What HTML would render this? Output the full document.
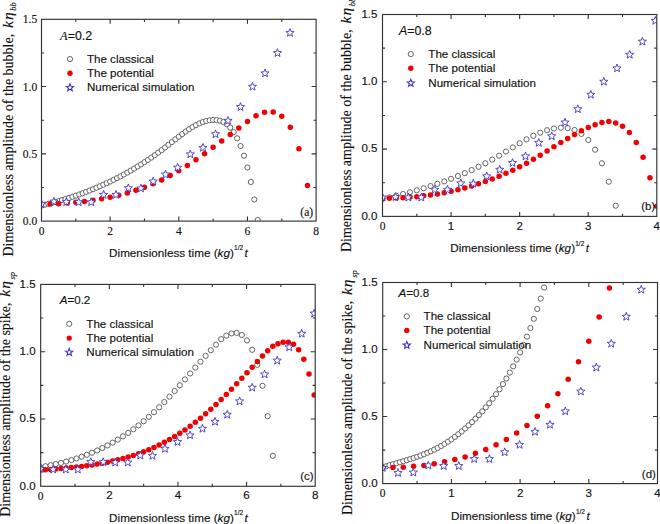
<!DOCTYPE html><html><head><meta charset="utf-8"><style>html,body{margin:0;padding:0;background:#fff;}svg{display:block;} text{stroke:#111;stroke-width:0.15px;}</style></head><body>
<svg width="660" height="524" viewBox="0 0 660 524">
<rect width="660" height="524" fill="#fff"/>
<defs><clipPath id="clipa"><rect x="41.50" y="19.30" width="274.60" height="201.80"/></clipPath><clipPath id="clipb"><rect x="382.50" y="14.50" width="274.30" height="201.90"/></clipPath><clipPath id="clipc"><rect x="40.70" y="284.40" width="274.50" height="201.90"/></clipPath><clipPath id="clipd"><rect x="382.70" y="282.50" width="274.80" height="201.10"/></clipPath></defs>
<g><g clip-path="url(#clipa)"><circle cx="41.50" cy="205.51" r="2.6" fill="#fff" stroke="#555" stroke-width="0.9"/><circle cx="44.93" cy="204.68" r="2.6" fill="#fff" stroke="#555" stroke-width="0.9"/><circle cx="48.36" cy="203.82" r="2.6" fill="#fff" stroke="#555" stroke-width="0.9"/><circle cx="51.80" cy="202.92" r="2.6" fill="#fff" stroke="#555" stroke-width="0.9"/><circle cx="55.23" cy="201.99" r="2.6" fill="#fff" stroke="#555" stroke-width="0.9"/><circle cx="58.66" cy="201.02" r="2.6" fill="#fff" stroke="#555" stroke-width="0.9"/><circle cx="62.09" cy="200.02" r="2.6" fill="#fff" stroke="#555" stroke-width="0.9"/><circle cx="65.52" cy="198.98" r="2.6" fill="#fff" stroke="#555" stroke-width="0.9"/><circle cx="68.96" cy="197.90" r="2.6" fill="#fff" stroke="#555" stroke-width="0.9"/><circle cx="72.39" cy="196.78" r="2.6" fill="#fff" stroke="#555" stroke-width="0.9"/><circle cx="75.82" cy="195.62" r="2.6" fill="#fff" stroke="#555" stroke-width="0.9"/><circle cx="79.25" cy="194.42" r="2.6" fill="#fff" stroke="#555" stroke-width="0.9"/><circle cx="82.68" cy="193.18" r="2.6" fill="#fff" stroke="#555" stroke-width="0.9"/><circle cx="86.12" cy="191.89" r="2.6" fill="#fff" stroke="#555" stroke-width="0.9"/><circle cx="89.55" cy="190.56" r="2.6" fill="#fff" stroke="#555" stroke-width="0.9"/><circle cx="92.98" cy="189.18" r="2.6" fill="#fff" stroke="#555" stroke-width="0.9"/><circle cx="96.41" cy="187.75" r="2.6" fill="#fff" stroke="#555" stroke-width="0.9"/><circle cx="99.84" cy="186.27" r="2.6" fill="#fff" stroke="#555" stroke-width="0.9"/><circle cx="103.28" cy="184.75" r="2.6" fill="#fff" stroke="#555" stroke-width="0.9"/><circle cx="106.71" cy="183.17" r="2.6" fill="#fff" stroke="#555" stroke-width="0.9"/><circle cx="110.14" cy="181.54" r="2.6" fill="#fff" stroke="#555" stroke-width="0.9"/><circle cx="113.57" cy="179.86" r="2.6" fill="#fff" stroke="#555" stroke-width="0.9"/><circle cx="117.00" cy="178.12" r="2.6" fill="#fff" stroke="#555" stroke-width="0.9"/><circle cx="120.44" cy="176.33" r="2.6" fill="#fff" stroke="#555" stroke-width="0.9"/><circle cx="123.87" cy="174.48" r="2.6" fill="#fff" stroke="#555" stroke-width="0.9"/><circle cx="127.30" cy="172.58" r="2.6" fill="#fff" stroke="#555" stroke-width="0.9"/><circle cx="130.73" cy="170.61" r="2.6" fill="#fff" stroke="#555" stroke-width="0.9"/><circle cx="134.16" cy="168.59" r="2.6" fill="#fff" stroke="#555" stroke-width="0.9"/><circle cx="137.60" cy="166.50" r="2.6" fill="#fff" stroke="#555" stroke-width="0.9"/><circle cx="141.03" cy="164.35" r="2.6" fill="#fff" stroke="#555" stroke-width="0.9"/><circle cx="144.46" cy="162.14" r="2.6" fill="#fff" stroke="#555" stroke-width="0.9"/><circle cx="147.89" cy="159.86" r="2.6" fill="#fff" stroke="#555" stroke-width="0.9"/><circle cx="151.32" cy="157.52" r="2.6" fill="#fff" stroke="#555" stroke-width="0.9"/><circle cx="154.76" cy="155.11" r="2.6" fill="#fff" stroke="#555" stroke-width="0.9"/><circle cx="158.19" cy="152.63" r="2.6" fill="#fff" stroke="#555" stroke-width="0.9"/><circle cx="161.62" cy="150.09" r="2.6" fill="#fff" stroke="#555" stroke-width="0.9"/><circle cx="165.05" cy="147.47" r="2.6" fill="#fff" stroke="#555" stroke-width="0.9"/><circle cx="168.48" cy="144.79" r="2.6" fill="#fff" stroke="#555" stroke-width="0.9"/><circle cx="171.92" cy="142.07" r="2.6" fill="#fff" stroke="#555" stroke-width="0.9"/><circle cx="175.35" cy="139.35" r="2.6" fill="#fff" stroke="#555" stroke-width="0.9"/><circle cx="178.78" cy="136.67" r="2.6" fill="#fff" stroke="#555" stroke-width="0.9"/><circle cx="182.21" cy="134.07" r="2.6" fill="#fff" stroke="#555" stroke-width="0.9"/><circle cx="185.64" cy="131.57" r="2.6" fill="#fff" stroke="#555" stroke-width="0.9"/><circle cx="189.08" cy="129.22" r="2.6" fill="#fff" stroke="#555" stroke-width="0.9"/><circle cx="192.51" cy="127.06" r="2.6" fill="#fff" stroke="#555" stroke-width="0.9"/><circle cx="195.94" cy="125.11" r="2.6" fill="#fff" stroke="#555" stroke-width="0.9"/><circle cx="199.37" cy="123.43" r="2.6" fill="#fff" stroke="#555" stroke-width="0.9"/><circle cx="202.80" cy="122.03" r="2.6" fill="#fff" stroke="#555" stroke-width="0.9"/><circle cx="206.24" cy="120.96" r="2.6" fill="#fff" stroke="#555" stroke-width="0.9"/><circle cx="209.67" cy="120.26" r="2.6" fill="#fff" stroke="#555" stroke-width="0.9"/><circle cx="213.10" cy="119.96" r="2.6" fill="#fff" stroke="#555" stroke-width="0.9"/><circle cx="216.53" cy="120.10" r="2.6" fill="#fff" stroke="#555" stroke-width="0.9"/><circle cx="219.96" cy="120.75" r="2.6" fill="#fff" stroke="#555" stroke-width="0.9"/><circle cx="223.40" cy="122.08" r="2.6" fill="#fff" stroke="#555" stroke-width="0.9"/><circle cx="226.83" cy="124.29" r="2.6" fill="#fff" stroke="#555" stroke-width="0.9"/><circle cx="230.26" cy="127.58" r="2.6" fill="#fff" stroke="#555" stroke-width="0.9"/><circle cx="233.69" cy="132.15" r="2.6" fill="#fff" stroke="#555" stroke-width="0.9"/><circle cx="237.12" cy="138.30" r="2.6" fill="#fff" stroke="#555" stroke-width="0.9"/><circle cx="240.56" cy="146.00" r="2.6" fill="#fff" stroke="#555" stroke-width="0.9"/><circle cx="243.99" cy="155.80" r="2.6" fill="#fff" stroke="#555" stroke-width="0.9"/><circle cx="247.42" cy="167.50" r="2.6" fill="#fff" stroke="#555" stroke-width="0.9"/><circle cx="250.85" cy="182.00" r="2.6" fill="#fff" stroke="#555" stroke-width="0.9"/><circle cx="254.28" cy="199.50" r="2.6" fill="#fff" stroke="#555" stroke-width="0.9"/><circle cx="257.72" cy="220.00" r="2.6" fill="#fff" stroke="#555" stroke-width="0.9"/><circle cx="41.50" cy="204.42" r="2.75" fill="#f00000"/><circle cx="50.08" cy="204.10" r="2.75" fill="#f00000"/><circle cx="58.66" cy="203.66" r="2.75" fill="#f00000"/><circle cx="67.24" cy="203.08" r="2.75" fill="#f00000"/><circle cx="75.82" cy="202.33" r="2.75" fill="#f00000"/><circle cx="84.40" cy="201.40" r="2.75" fill="#f00000"/><circle cx="92.98" cy="200.24" r="2.75" fill="#f00000"/><circle cx="101.56" cy="198.83" r="2.75" fill="#f00000"/><circle cx="110.14" cy="197.16" r="2.75" fill="#f00000"/><circle cx="118.72" cy="195.18" r="2.75" fill="#f00000"/><circle cx="127.30" cy="192.88" r="2.75" fill="#f00000"/><circle cx="135.88" cy="190.22" r="2.75" fill="#f00000"/><circle cx="144.46" cy="187.19" r="2.75" fill="#f00000"/><circle cx="153.04" cy="183.75" r="2.75" fill="#f00000"/><circle cx="161.62" cy="179.88" r="2.75" fill="#f00000"/><circle cx="170.20" cy="175.55" r="2.75" fill="#f00000"/><circle cx="178.78" cy="170.74" r="2.75" fill="#f00000"/><circle cx="187.36" cy="165.44" r="2.75" fill="#f00000"/><circle cx="195.94" cy="159.72" r="2.75" fill="#f00000"/><circle cx="204.52" cy="153.66" r="2.75" fill="#f00000"/><circle cx="213.10" cy="147.37" r="2.75" fill="#f00000"/><circle cx="221.68" cy="140.92" r="2.75" fill="#f00000"/><circle cx="230.26" cy="134.41" r="2.75" fill="#f00000"/><circle cx="238.84" cy="127.93" r="2.75" fill="#f00000"/><circle cx="247.42" cy="121.56" r="2.75" fill="#f00000"/><circle cx="256.00" cy="115.80" r="2.75" fill="#f00000"/><circle cx="264.58" cy="112.30" r="2.75" fill="#f00000"/><circle cx="273.16" cy="112.00" r="2.75" fill="#f00000"/><circle cx="281.74" cy="116.20" r="2.75" fill="#f00000"/><circle cx="290.32" cy="127.30" r="2.75" fill="#f00000"/><circle cx="298.90" cy="148.80" r="2.75" fill="#f00000"/><circle cx="307.48" cy="185.40" r="2.75" fill="#f00000"/><path d="M41.50,199.80 L42.59,202.60 L45.59,202.77 L43.26,204.67 L44.03,207.58 L41.50,205.95 L38.97,207.58 L39.74,204.67 L37.41,202.77 L40.41,202.60Z" fill="#fff" stroke="#3d35c8" stroke-width="0.9" stroke-linejoin="miter"/><path d="M53.90,197.30 L54.99,200.10 L57.99,200.27 L55.66,202.17 L56.43,205.08 L53.90,203.45 L51.37,205.08 L52.14,202.17 L49.81,200.27 L52.81,200.10Z" fill="#fff" stroke="#3d35c8" stroke-width="0.9" stroke-linejoin="miter"/><path d="M66.30,197.70 L67.39,200.50 L70.39,200.67 L68.06,202.57 L68.83,205.48 L66.30,203.85 L63.77,205.48 L64.54,202.57 L62.21,200.67 L65.21,200.50Z" fill="#fff" stroke="#3d35c8" stroke-width="0.9" stroke-linejoin="miter"/><path d="M78.70,197.90 L79.79,200.70 L82.79,200.87 L80.46,202.77 L81.23,205.68 L78.70,204.05 L76.17,205.68 L76.94,202.77 L74.61,200.87 L77.61,200.70Z" fill="#fff" stroke="#3d35c8" stroke-width="0.9" stroke-linejoin="miter"/><path d="M91.20,197.90 L92.29,200.70 L95.29,200.87 L92.96,202.77 L93.73,205.68 L91.20,204.05 L88.67,205.68 L89.44,202.77 L87.11,200.87 L90.11,200.70Z" fill="#fff" stroke="#3d35c8" stroke-width="0.9" stroke-linejoin="miter"/><path d="M103.60,190.50 L104.69,193.30 L107.69,193.47 L105.36,195.37 L106.13,198.28 L103.60,196.65 L101.07,198.28 L101.84,195.37 L99.51,193.47 L102.51,193.30Z" fill="#fff" stroke="#3d35c8" stroke-width="0.9" stroke-linejoin="miter"/><path d="M116.00,190.50 L117.09,193.30 L120.09,193.47 L117.76,195.37 L118.53,198.28 L116.00,196.65 L113.47,198.28 L114.24,195.37 L111.91,193.47 L114.91,193.30Z" fill="#fff" stroke="#3d35c8" stroke-width="0.9" stroke-linejoin="miter"/><path d="M128.40,183.90 L129.49,186.70 L132.49,186.87 L130.16,188.77 L130.93,191.68 L128.40,190.05 L125.87,191.68 L126.64,188.77 L124.31,186.87 L127.31,186.70Z" fill="#fff" stroke="#3d35c8" stroke-width="0.9" stroke-linejoin="miter"/><path d="M140.90,184.10 L141.99,186.90 L144.99,187.07 L142.66,188.97 L143.43,191.88 L140.90,190.25 L138.37,191.88 L139.14,188.97 L136.81,187.07 L139.81,186.90Z" fill="#fff" stroke="#3d35c8" stroke-width="0.9" stroke-linejoin="miter"/><path d="M153.20,177.20 L154.29,180.00 L157.29,180.17 L154.96,182.07 L155.73,184.98 L153.20,183.35 L150.67,184.98 L151.44,182.07 L149.11,180.17 L152.11,180.00Z" fill="#fff" stroke="#3d35c8" stroke-width="0.9" stroke-linejoin="miter"/><path d="M165.50,170.20 L166.59,173.00 L169.59,173.17 L167.26,175.07 L168.03,177.98 L165.50,176.35 L162.97,177.98 L163.74,175.07 L161.41,173.17 L164.41,173.00Z" fill="#fff" stroke="#3d35c8" stroke-width="0.9" stroke-linejoin="miter"/><path d="M177.60,163.30 L178.69,166.10 L181.69,166.27 L179.36,168.17 L180.13,171.08 L177.60,169.45 L175.07,171.08 L175.84,168.17 L173.51,166.27 L176.51,166.10Z" fill="#fff" stroke="#3d35c8" stroke-width="0.9" stroke-linejoin="miter"/><path d="M190.30,150.00 L191.39,152.80 L194.39,152.97 L192.06,154.87 L192.83,157.78 L190.30,156.15 L187.77,157.78 L188.54,154.87 L186.21,152.97 L189.21,152.80Z" fill="#fff" stroke="#3d35c8" stroke-width="0.9" stroke-linejoin="miter"/><path d="M203.00,143.50 L204.09,146.30 L207.09,146.47 L204.76,148.37 L205.53,151.28 L203.00,149.65 L200.47,151.28 L201.24,148.37 L198.91,146.47 L201.91,146.30Z" fill="#fff" stroke="#3d35c8" stroke-width="0.9" stroke-linejoin="miter"/><path d="M215.50,129.90 L216.59,132.70 L219.59,132.87 L217.26,134.77 L218.03,137.68 L215.50,136.05 L212.97,137.68 L213.74,134.77 L211.41,132.87 L214.41,132.70Z" fill="#fff" stroke="#3d35c8" stroke-width="0.9" stroke-linejoin="miter"/><path d="M228.00,116.50 L229.09,119.30 L232.09,119.47 L229.76,121.37 L230.53,124.28 L228.00,122.65 L225.47,124.28 L226.24,121.37 L223.91,119.47 L226.91,119.30Z" fill="#fff" stroke="#3d35c8" stroke-width="0.9" stroke-linejoin="miter"/><path d="M240.50,102.70 L241.59,105.50 L244.59,105.67 L242.26,107.57 L243.03,110.48 L240.50,108.85 L237.97,110.48 L238.74,107.57 L236.41,105.67 L239.41,105.50Z" fill="#fff" stroke="#3d35c8" stroke-width="0.9" stroke-linejoin="miter"/><path d="M252.50,82.40 L253.59,85.20 L256.59,85.37 L254.26,87.27 L255.03,90.18 L252.50,88.55 L249.97,90.18 L250.74,87.27 L248.41,85.37 L251.41,85.20Z" fill="#fff" stroke="#3d35c8" stroke-width="0.9" stroke-linejoin="miter"/><path d="M265.00,69.00 L266.09,71.80 L269.09,71.97 L266.76,73.87 L267.53,76.78 L265.00,75.15 L262.47,76.78 L263.24,73.87 L260.91,71.97 L263.91,71.80Z" fill="#fff" stroke="#3d35c8" stroke-width="0.9" stroke-linejoin="miter"/><path d="M277.50,48.70 L278.59,51.50 L281.59,51.67 L279.26,53.57 L280.03,56.48 L277.50,54.85 L274.97,56.48 L275.74,53.57 L273.41,51.67 L276.41,51.50Z" fill="#fff" stroke="#3d35c8" stroke-width="0.9" stroke-linejoin="miter"/><path d="M290.00,28.60 L291.09,31.40 L294.09,31.57 L291.76,33.47 L292.53,36.38 L290.00,34.75 L287.47,36.38 L288.24,33.47 L285.91,31.57 L288.91,31.40Z" fill="#fff" stroke="#3d35c8" stroke-width="0.9" stroke-linejoin="miter"/></g><rect x="41.50" y="19.30" width="274.60" height="201.80" fill="none" stroke="#333" stroke-width="1.15"/><path d="M75.83,221.10V218.50M75.83,19.30V21.90M110.15,221.10V216.60M110.15,19.30V23.80M144.48,221.10V218.50M144.48,19.30V21.90M178.80,221.10V216.60M178.80,19.30V23.80M213.12,221.10V218.50M213.12,19.30V21.90M247.45,221.10V216.60M247.45,19.30V23.80M281.78,221.10V218.50M281.78,19.30V21.90M41.50,187.47H44.10M316.10,187.47H313.50M41.50,153.83H46.00M316.10,153.83H311.60M41.50,120.20H44.10M316.10,120.20H313.50M41.50,86.57H46.00M316.10,86.57H311.60M41.50,52.93H44.10M316.10,52.93H313.50" stroke="#333" stroke-width="1.1" fill="none"/><text x="41.50" y="234.70" font-family='"Liberation Serif", serif' font-size="11.5" text-anchor="middle" fill="#111">0</text><text x="110.15" y="234.70" font-family='"Liberation Serif", serif' font-size="11.5" text-anchor="middle" fill="#111">2</text><text x="178.80" y="234.70" font-family='"Liberation Serif", serif' font-size="11.5" text-anchor="middle" fill="#111">4</text><text x="247.45" y="234.70" font-family='"Liberation Serif", serif' font-size="11.5" text-anchor="middle" fill="#111">6</text><text x="316.10" y="234.70" font-family='"Liberation Serif", serif' font-size="11.5" text-anchor="middle" fill="#111">8</text><text x="37.20" y="225.10" font-family='"Liberation Serif", serif' font-size="11.5" text-anchor="end" fill="#111">0.0</text><text x="37.20" y="157.83" font-family='"Liberation Serif", serif' font-size="11.5" text-anchor="end" fill="#111">0.5</text><text x="37.20" y="90.57" font-family='"Liberation Serif", serif' font-size="11.5" text-anchor="end" fill="#111">1.0</text><text x="37.20" y="23.30" font-family='"Liberation Serif", serif' font-size="11.5" text-anchor="end" fill="#111">1.5</text><text x="109.10" y="257.00" font-family='"Liberation Sans", sans-serif' font-size="11.7" fill="#111">Dimensionless time (<tspan font-style="italic">kg</tspan>)<tspan font-size="6.5" dy="-6.6" dx="0.2">1/2</tspan><tspan dy="6.6" dx="1.5" font-style="italic">t</tspan></text><text transform="translate(12.60,256.60) rotate(-90)" x="0" y="0" font-family='"Liberation Serif", serif' font-size="14" fill="#111">Dimensionless amplitude of the bubble, <tspan dx="2.4" font-style="italic" font-size="15.5">k<tspan dx="0.9">&#951;</tspan></tspan><tspan font-style="italic" font-size="8.6" dx="1.6" dy="3.4">bb</tspan></text><text x="60.10" y="39.90" font-family='"Liberation Sans", sans-serif' font-size="12.4" fill="#111"><tspan font-family='"Liberation Serif", serif' font-style="italic">A</tspan>=0.2</text><circle cx="70.00" cy="59.10" r="2.6" fill="none" stroke="#555" stroke-width="0.9"/><circle cx="70.00" cy="73.30" r="2.7" fill="#f00000"/><path d="M70.00,83.80 L70.96,86.28 L73.61,86.43 L71.55,88.10 L72.23,90.67 L70.00,89.23 L67.77,90.67 L68.45,88.10 L66.39,86.43 L69.04,86.28Z" fill="none" stroke="#3d35c8" stroke-width="1.1"/><text x="86.90" y="62.90" font-family='"Liberation Sans", sans-serif' font-size="11.6" fill="#111">The classical</text><text x="86.90" y="77.10" font-family='"Liberation Sans", sans-serif' font-size="11.6" fill="#111">The potential</text><text x="86.90" y="91.20" font-family='"Liberation Sans", sans-serif' font-size="11.6" fill="#111">Numerical simulation</text><text x="313.10" y="216.10" font-family='"Liberation Serif", serif' font-size="11.5" text-anchor="end" fill="#111">(a)</text></g>
<g><g clip-path="url(#clipb)"><circle cx="382.50" cy="198.98" r="2.6" fill="#fff" stroke="#555" stroke-width="0.9"/><circle cx="389.36" cy="197.41" r="2.6" fill="#fff" stroke="#555" stroke-width="0.9"/><circle cx="396.22" cy="195.77" r="2.6" fill="#fff" stroke="#555" stroke-width="0.9"/><circle cx="403.07" cy="194.05" r="2.6" fill="#fff" stroke="#555" stroke-width="0.9"/><circle cx="409.93" cy="192.23" r="2.6" fill="#fff" stroke="#555" stroke-width="0.9"/><circle cx="416.79" cy="190.30" r="2.6" fill="#fff" stroke="#555" stroke-width="0.9"/><circle cx="423.65" cy="188.27" r="2.6" fill="#fff" stroke="#555" stroke-width="0.9"/><circle cx="430.51" cy="186.11" r="2.6" fill="#fff" stroke="#555" stroke-width="0.9"/><circle cx="437.36" cy="183.82" r="2.6" fill="#fff" stroke="#555" stroke-width="0.9"/><circle cx="444.22" cy="181.39" r="2.6" fill="#fff" stroke="#555" stroke-width="0.9"/><circle cx="451.08" cy="178.81" r="2.6" fill="#fff" stroke="#555" stroke-width="0.9"/><circle cx="457.94" cy="176.07" r="2.6" fill="#fff" stroke="#555" stroke-width="0.9"/><circle cx="464.80" cy="173.15" r="2.6" fill="#fff" stroke="#555" stroke-width="0.9"/><circle cx="471.65" cy="170.06" r="2.6" fill="#fff" stroke="#555" stroke-width="0.9"/><circle cx="478.51" cy="166.77" r="2.6" fill="#fff" stroke="#555" stroke-width="0.9"/><circle cx="485.37" cy="163.29" r="2.6" fill="#fff" stroke="#555" stroke-width="0.9"/><circle cx="492.23" cy="159.60" r="2.6" fill="#fff" stroke="#555" stroke-width="0.9"/><circle cx="499.09" cy="155.69" r="2.6" fill="#fff" stroke="#555" stroke-width="0.9"/><circle cx="505.94" cy="151.58" r="2.6" fill="#fff" stroke="#555" stroke-width="0.9"/><circle cx="512.80" cy="147.39" r="2.6" fill="#fff" stroke="#555" stroke-width="0.9"/><circle cx="519.66" cy="143.26" r="2.6" fill="#fff" stroke="#555" stroke-width="0.9"/><circle cx="526.52" cy="139.34" r="2.6" fill="#fff" stroke="#555" stroke-width="0.9"/><circle cx="533.38" cy="135.76" r="2.6" fill="#fff" stroke="#555" stroke-width="0.9"/><circle cx="540.23" cy="132.67" r="2.6" fill="#fff" stroke="#555" stroke-width="0.9"/><circle cx="547.09" cy="130.21" r="2.6" fill="#fff" stroke="#555" stroke-width="0.9"/><circle cx="553.95" cy="128.52" r="2.6" fill="#fff" stroke="#555" stroke-width="0.9"/><circle cx="560.81" cy="127.74" r="2.6" fill="#fff" stroke="#555" stroke-width="0.9"/><circle cx="567.67" cy="128.07" r="2.6" fill="#fff" stroke="#555" stroke-width="0.9"/><circle cx="574.52" cy="129.96" r="2.6" fill="#fff" stroke="#555" stroke-width="0.9"/><circle cx="581.38" cy="133.91" r="2.6" fill="#fff" stroke="#555" stroke-width="0.9"/><circle cx="588.24" cy="140.00" r="2.6" fill="#fff" stroke="#555" stroke-width="0.9"/><circle cx="595.10" cy="149.70" r="2.6" fill="#fff" stroke="#555" stroke-width="0.9"/><circle cx="601.96" cy="163.30" r="2.6" fill="#fff" stroke="#555" stroke-width="0.9"/><circle cx="608.81" cy="181.70" r="2.6" fill="#fff" stroke="#555" stroke-width="0.9"/><circle cx="615.67" cy="205.70" r="2.6" fill="#fff" stroke="#555" stroke-width="0.9"/><circle cx="382.50" cy="198.39" r="2.75" fill="#f00000"/><circle cx="389.36" cy="198.30" r="2.75" fill="#f00000"/><circle cx="396.22" cy="198.08" r="2.75" fill="#f00000"/><circle cx="403.07" cy="197.73" r="2.75" fill="#f00000"/><circle cx="409.93" cy="197.25" r="2.75" fill="#f00000"/><circle cx="416.79" cy="196.63" r="2.75" fill="#f00000"/><circle cx="423.65" cy="195.87" r="2.75" fill="#f00000"/><circle cx="430.51" cy="194.95" r="2.75" fill="#f00000"/><circle cx="437.36" cy="193.88" r="2.75" fill="#f00000"/><circle cx="444.22" cy="192.64" r="2.75" fill="#f00000"/><circle cx="451.08" cy="191.24" r="2.75" fill="#f00000"/><circle cx="457.94" cy="189.66" r="2.75" fill="#f00000"/><circle cx="464.80" cy="187.91" r="2.75" fill="#f00000"/><circle cx="471.65" cy="185.97" r="2.75" fill="#f00000"/><circle cx="478.51" cy="183.84" r="2.75" fill="#f00000"/><circle cx="485.37" cy="181.52" r="2.75" fill="#f00000"/><circle cx="492.23" cy="179.00" r="2.75" fill="#f00000"/><circle cx="499.09" cy="176.27" r="2.75" fill="#f00000"/><circle cx="505.94" cy="173.33" r="2.75" fill="#f00000"/><circle cx="512.80" cy="170.18" r="2.75" fill="#f00000"/><circle cx="519.66" cy="166.80" r="2.75" fill="#f00000"/><circle cx="526.52" cy="163.19" r="2.75" fill="#f00000"/><circle cx="533.38" cy="159.36" r="2.75" fill="#f00000"/><circle cx="540.23" cy="155.29" r="2.75" fill="#f00000"/><circle cx="547.09" cy="151.08" r="2.75" fill="#f00000"/><circle cx="553.95" cy="146.79" r="2.75" fill="#f00000"/><circle cx="560.81" cy="142.53" r="2.75" fill="#f00000"/><circle cx="567.67" cy="138.38" r="2.75" fill="#f00000"/><circle cx="574.52" cy="134.43" r="2.75" fill="#f00000"/><circle cx="581.38" cy="130.77" r="2.75" fill="#f00000"/><circle cx="588.24" cy="127.48" r="2.75" fill="#f00000"/><circle cx="595.10" cy="124.66" r="2.75" fill="#f00000"/><circle cx="601.96" cy="122.47" r="2.75" fill="#f00000"/><circle cx="608.81" cy="121.46" r="2.75" fill="#f00000"/><circle cx="615.67" cy="123.00" r="2.75" fill="#f00000"/><circle cx="622.53" cy="126.30" r="2.75" fill="#f00000"/><circle cx="629.39" cy="132.50" r="2.75" fill="#f00000"/><circle cx="636.25" cy="142.50" r="2.75" fill="#f00000"/><circle cx="643.10" cy="157.20" r="2.75" fill="#f00000"/><circle cx="649.96" cy="177.70" r="2.75" fill="#f00000"/><circle cx="656.82" cy="206.20" r="2.75" fill="#f00000"/><path d="M382.50,193.20 L383.59,196.00 L386.59,196.17 L384.26,198.07 L385.03,200.98 L382.50,199.35 L379.97,200.98 L380.74,198.07 L378.41,196.17 L381.41,196.00Z" fill="#fff" stroke="#3d35c8" stroke-width="0.9" stroke-linejoin="miter"/><path d="M395.50,192.70 L396.59,195.50 L399.59,195.67 L397.26,197.57 L398.03,200.48 L395.50,198.85 L392.97,200.48 L393.74,197.57 L391.41,195.67 L394.41,195.50Z" fill="#fff" stroke="#3d35c8" stroke-width="0.9" stroke-linejoin="miter"/><path d="M408.30,193.20 L409.39,196.00 L412.39,196.17 L410.06,198.07 L410.83,200.98 L408.30,199.35 L405.77,200.98 L406.54,198.07 L404.21,196.17 L407.21,196.00Z" fill="#fff" stroke="#3d35c8" stroke-width="0.9" stroke-linejoin="miter"/><path d="M421.30,193.20 L422.39,196.00 L425.39,196.17 L423.06,198.07 L423.83,200.98 L421.30,199.35 L418.77,200.98 L419.54,198.07 L417.21,196.17 L420.21,196.00Z" fill="#fff" stroke="#3d35c8" stroke-width="0.9" stroke-linejoin="miter"/><path d="M434.70,185.40 L435.79,188.20 L438.79,188.37 L436.46,190.27 L437.23,193.18 L434.70,191.55 L432.17,193.18 L432.94,190.27 L430.61,188.37 L433.61,188.20Z" fill="#fff" stroke="#3d35c8" stroke-width="0.9" stroke-linejoin="miter"/><path d="M447.50,185.40 L448.59,188.20 L451.59,188.37 L449.26,190.27 L450.03,193.18 L447.50,191.55 L444.97,193.18 L445.74,190.27 L443.41,188.37 L446.41,188.20Z" fill="#fff" stroke="#3d35c8" stroke-width="0.9" stroke-linejoin="miter"/><path d="M460.80,179.00 L461.89,181.80 L464.89,181.97 L462.56,183.87 L463.33,186.78 L460.80,185.15 L458.27,186.78 L459.04,183.87 L456.71,181.97 L459.71,181.80Z" fill="#fff" stroke="#3d35c8" stroke-width="0.9" stroke-linejoin="miter"/><path d="M473.30,179.40 L474.39,182.20 L477.39,182.37 L475.06,184.27 L475.83,187.18 L473.30,185.55 L470.77,187.18 L471.54,184.27 L469.21,182.37 L472.21,182.20Z" fill="#fff" stroke="#3d35c8" stroke-width="0.9" stroke-linejoin="miter"/><path d="M486.70,172.00 L487.79,174.80 L490.79,174.97 L488.46,176.87 L489.23,179.78 L486.70,178.15 L484.17,179.78 L484.94,176.87 L482.61,174.97 L485.61,174.80Z" fill="#fff" stroke="#3d35c8" stroke-width="0.9" stroke-linejoin="miter"/><path d="M499.70,165.40 L500.79,168.20 L503.79,168.37 L501.46,170.27 L502.23,173.18 L499.70,171.55 L497.17,173.18 L497.94,170.27 L495.61,168.37 L498.61,168.20Z" fill="#fff" stroke="#3d35c8" stroke-width="0.9" stroke-linejoin="miter"/><path d="M512.50,158.70 L513.59,161.50 L516.59,161.67 L514.26,163.57 L515.03,166.48 L512.50,164.85 L509.97,166.48 L510.74,163.57 L508.41,161.67 L511.41,161.50Z" fill="#fff" stroke="#3d35c8" stroke-width="0.9" stroke-linejoin="miter"/><path d="M525.50,152.00 L526.59,154.80 L529.59,154.97 L527.26,156.87 L528.03,159.78 L525.50,158.15 L522.97,159.78 L523.74,156.87 L521.41,154.97 L524.41,154.80Z" fill="#fff" stroke="#3d35c8" stroke-width="0.9" stroke-linejoin="miter"/><path d="M538.70,138.50 L539.79,141.30 L542.79,141.47 L540.46,143.37 L541.23,146.28 L538.70,144.65 L536.17,146.28 L536.94,143.37 L534.61,141.47 L537.61,141.30Z" fill="#fff" stroke="#3d35c8" stroke-width="0.9" stroke-linejoin="miter"/><path d="M551.70,131.90 L552.79,134.70 L555.79,134.87 L553.46,136.77 L554.23,139.68 L551.70,138.05 L549.17,139.68 L549.94,136.77 L547.61,134.87 L550.61,134.70Z" fill="#fff" stroke="#3d35c8" stroke-width="0.9" stroke-linejoin="miter"/><path d="M565.00,118.20 L566.09,121.00 L569.09,121.17 L566.76,123.07 L567.53,125.98 L565.00,124.35 L562.47,125.98 L563.24,123.07 L560.91,121.17 L563.91,121.00Z" fill="#fff" stroke="#3d35c8" stroke-width="0.9" stroke-linejoin="miter"/><path d="M577.80,104.90 L578.89,107.70 L581.89,107.87 L579.56,109.77 L580.33,112.68 L577.80,111.05 L575.27,112.68 L576.04,109.77 L573.71,107.87 L576.71,107.70Z" fill="#fff" stroke="#3d35c8" stroke-width="0.9" stroke-linejoin="miter"/><path d="M590.80,90.40 L591.89,93.20 L594.89,93.37 L592.56,95.27 L593.33,98.18 L590.80,96.55 L588.27,98.18 L589.04,95.27 L586.71,93.37 L589.71,93.20Z" fill="#fff" stroke="#3d35c8" stroke-width="0.9" stroke-linejoin="miter"/><path d="M603.80,77.40 L604.89,80.20 L607.89,80.37 L605.56,82.27 L606.33,85.18 L603.80,83.55 L601.27,85.18 L602.04,82.27 L599.71,80.37 L602.71,80.20Z" fill="#fff" stroke="#3d35c8" stroke-width="0.9" stroke-linejoin="miter"/><path d="M617.00,64.00 L618.09,66.80 L621.09,66.97 L618.76,68.87 L619.53,71.78 L617.00,70.15 L614.47,71.78 L615.24,68.87 L612.91,66.97 L615.91,66.80Z" fill="#fff" stroke="#3d35c8" stroke-width="0.9" stroke-linejoin="miter"/><path d="M629.70,50.40 L630.79,53.20 L633.79,53.37 L631.46,55.27 L632.23,58.18 L629.70,56.55 L627.17,58.18 L627.94,55.27 L625.61,53.37 L628.61,53.20Z" fill="#fff" stroke="#3d35c8" stroke-width="0.9" stroke-linejoin="miter"/><path d="M642.40,37.30 L643.49,40.10 L646.49,40.27 L644.16,42.17 L644.93,45.08 L642.40,43.45 L639.87,45.08 L640.64,42.17 L638.31,40.27 L641.31,40.10Z" fill="#fff" stroke="#3d35c8" stroke-width="0.9" stroke-linejoin="miter"/><path d="M655.30,16.50 L656.39,19.30 L659.39,19.47 L657.06,21.37 L657.83,24.28 L655.30,22.65 L652.77,24.28 L653.54,21.37 L651.21,19.47 L654.21,19.30Z" fill="#fff" stroke="#3d35c8" stroke-width="0.9" stroke-linejoin="miter"/></g><rect x="382.50" y="14.50" width="274.30" height="201.90" fill="none" stroke="#333" stroke-width="1.15"/><path d="M416.79,216.40V213.80M416.79,14.50V17.10M451.07,216.40V211.90M451.07,14.50V19.00M485.36,216.40V213.80M485.36,14.50V17.10M519.65,216.40V211.90M519.65,14.50V19.00M553.94,216.40V213.80M553.94,14.50V17.10M588.22,216.40V211.90M588.22,14.50V19.00M622.51,216.40V213.80M622.51,14.50V17.10M382.50,182.75H385.10M656.80,182.75H654.20M382.50,149.10H387.00M656.80,149.10H652.30M382.50,115.45H385.10M656.80,115.45H654.20M382.50,81.80H387.00M656.80,81.80H652.30M382.50,48.15H385.10M656.80,48.15H654.20" stroke="#333" stroke-width="1.1" fill="none"/><text x="382.50" y="230.00" font-family='"Liberation Serif", serif' font-size="11.5" text-anchor="middle" fill="#111">0</text><text x="451.07" y="229.50" font-family='"Liberation Sans", sans-serif' font-size="11.5" text-anchor="middle" fill="#111">1</text><text x="519.65" y="229.50" font-family='"Liberation Sans", sans-serif' font-size="11.5" text-anchor="middle" fill="#111">2</text><text x="588.22" y="229.50" font-family='"Liberation Sans", sans-serif' font-size="11.5" text-anchor="middle" fill="#111">3</text><text x="656.80" y="229.50" font-family='"Liberation Sans", sans-serif' font-size="11.5" text-anchor="middle" fill="#111">4</text><text x="377.40" y="219.70" font-family='"Liberation Sans", sans-serif' font-size="11.5" text-anchor="end" fill="#111">0.0</text><text x="377.40" y="152.40" font-family='"Liberation Sans", sans-serif' font-size="11.5" text-anchor="end" fill="#111">0.5</text><text x="377.40" y="85.10" font-family='"Liberation Sans", sans-serif' font-size="11.5" text-anchor="end" fill="#111">1.0</text><text x="377.40" y="17.80" font-family='"Liberation Sans", sans-serif' font-size="11.5" text-anchor="end" fill="#111">1.5</text><text x="450.30" y="252.20" font-family='"Liberation Sans", sans-serif' font-size="11.7" fill="#111">Dimensionless time (<tspan font-style="italic">kg</tspan>)<tspan font-size="6.5" dy="-6.6" dx="0.2">1/2</tspan><tspan dy="6.6" dx="1.5" font-style="italic">t</tspan></text><text transform="translate(351.30,252.10) rotate(-90)" x="0" y="0" font-family='"Liberation Serif", serif' font-size="14" fill="#111">Dimensionless amplitude of the bubble, <tspan dx="2.4" font-style="italic" font-size="15.5">k<tspan dx="0.9">&#951;</tspan></tspan><tspan font-style="italic" font-size="8.6" dx="1.6" dy="3.4">bb</tspan></text><text x="398.90" y="34.50" font-family='"Liberation Sans", sans-serif' font-size="12.4" fill="#111"><tspan font-family='"Liberation Sans", sans-serif' font-style="italic">A</tspan>=0.8</text><circle cx="410.80" cy="54.10" r="2.6" fill="none" stroke="#555" stroke-width="0.9"/><circle cx="410.80" cy="68.30" r="2.7" fill="#f00000"/><path d="M410.80,79.30 L411.76,81.78 L414.41,81.93 L412.35,83.60 L413.03,86.17 L410.80,84.73 L408.57,86.17 L409.25,83.60 L407.19,81.93 L409.84,81.78Z" fill="none" stroke="#3d35c8" stroke-width="1.1"/><text x="428.30" y="57.90" font-family='"Liberation Sans", sans-serif' font-size="11.6" fill="#111">The classical</text><text x="428.30" y="72.10" font-family='"Liberation Sans", sans-serif' font-size="11.6" fill="#111">The potential</text><text x="428.30" y="86.70" font-family='"Liberation Sans", sans-serif' font-size="11.6" fill="#111">Numerical simulation</text><text x="655.20" y="210.40" font-family='"Liberation Sans", sans-serif' font-size="11.5" text-anchor="end" fill="#111">(b)</text></g>
<g><g clip-path="url(#clipc)"><circle cx="40.30" cy="467.12" r="2.6" fill="#fff" stroke="#555" stroke-width="0.9"/><circle cx="45.47" cy="466.22" r="2.6" fill="#fff" stroke="#555" stroke-width="0.9"/><circle cx="50.63" cy="465.22" r="2.6" fill="#fff" stroke="#555" stroke-width="0.9"/><circle cx="55.80" cy="464.12" r="2.6" fill="#fff" stroke="#555" stroke-width="0.9"/><circle cx="60.97" cy="462.90" r="2.6" fill="#fff" stroke="#555" stroke-width="0.9"/><circle cx="66.13" cy="461.55" r="2.6" fill="#fff" stroke="#555" stroke-width="0.9"/><circle cx="71.30" cy="460.08" r="2.6" fill="#fff" stroke="#555" stroke-width="0.9"/><circle cx="76.47" cy="458.47" r="2.6" fill="#fff" stroke="#555" stroke-width="0.9"/><circle cx="81.64" cy="456.70" r="2.6" fill="#fff" stroke="#555" stroke-width="0.9"/><circle cx="86.80" cy="454.79" r="2.6" fill="#fff" stroke="#555" stroke-width="0.9"/><circle cx="91.97" cy="452.71" r="2.6" fill="#fff" stroke="#555" stroke-width="0.9"/><circle cx="97.14" cy="450.46" r="2.6" fill="#fff" stroke="#555" stroke-width="0.9"/><circle cx="102.30" cy="448.03" r="2.6" fill="#fff" stroke="#555" stroke-width="0.9"/><circle cx="107.47" cy="445.42" r="2.6" fill="#fff" stroke="#555" stroke-width="0.9"/><circle cx="112.64" cy="442.61" r="2.6" fill="#fff" stroke="#555" stroke-width="0.9"/><circle cx="117.80" cy="439.60" r="2.6" fill="#fff" stroke="#555" stroke-width="0.9"/><circle cx="122.97" cy="436.37" r="2.6" fill="#fff" stroke="#555" stroke-width="0.9"/><circle cx="128.14" cy="432.93" r="2.6" fill="#fff" stroke="#555" stroke-width="0.9"/><circle cx="133.31" cy="429.26" r="2.6" fill="#fff" stroke="#555" stroke-width="0.9"/><circle cx="138.47" cy="425.36" r="2.6" fill="#fff" stroke="#555" stroke-width="0.9"/><circle cx="143.64" cy="421.22" r="2.6" fill="#fff" stroke="#555" stroke-width="0.9"/><circle cx="148.81" cy="416.82" r="2.6" fill="#fff" stroke="#555" stroke-width="0.9"/><circle cx="153.97" cy="412.17" r="2.6" fill="#fff" stroke="#555" stroke-width="0.9"/><circle cx="159.14" cy="407.25" r="2.6" fill="#fff" stroke="#555" stroke-width="0.9"/><circle cx="164.31" cy="402.06" r="2.6" fill="#fff" stroke="#555" stroke-width="0.9"/><circle cx="169.47" cy="396.64" r="2.6" fill="#fff" stroke="#555" stroke-width="0.9"/><circle cx="174.64" cy="391.03" r="2.6" fill="#fff" stroke="#555" stroke-width="0.9"/><circle cx="179.81" cy="385.27" r="2.6" fill="#fff" stroke="#555" stroke-width="0.9"/><circle cx="184.98" cy="379.41" r="2.6" fill="#fff" stroke="#555" stroke-width="0.9"/><circle cx="190.14" cy="373.50" r="2.6" fill="#fff" stroke="#555" stroke-width="0.9"/><circle cx="195.31" cy="367.57" r="2.6" fill="#fff" stroke="#555" stroke-width="0.9"/><circle cx="200.48" cy="361.68" r="2.6" fill="#fff" stroke="#555" stroke-width="0.9"/><circle cx="205.64" cy="355.87" r="2.6" fill="#fff" stroke="#555" stroke-width="0.9"/><circle cx="210.81" cy="350.18" r="2.6" fill="#fff" stroke="#555" stroke-width="0.9"/><circle cx="215.98" cy="344.66" r="2.6" fill="#fff" stroke="#555" stroke-width="0.9"/><circle cx="221.14" cy="339.20" r="2.6" fill="#fff" stroke="#555" stroke-width="0.9"/><circle cx="226.31" cy="335.60" r="2.6" fill="#fff" stroke="#555" stroke-width="0.9"/><circle cx="231.48" cy="333.40" r="2.6" fill="#fff" stroke="#555" stroke-width="0.9"/><circle cx="236.65" cy="332.90" r="2.6" fill="#fff" stroke="#555" stroke-width="0.9"/><circle cx="241.81" cy="335.00" r="2.6" fill="#fff" stroke="#555" stroke-width="0.9"/><circle cx="246.98" cy="340.40" r="2.6" fill="#fff" stroke="#555" stroke-width="0.9"/><circle cx="252.15" cy="349.80" r="2.6" fill="#fff" stroke="#555" stroke-width="0.9"/><circle cx="257.31" cy="364.80" r="2.6" fill="#fff" stroke="#555" stroke-width="0.9"/><circle cx="262.48" cy="385.80" r="2.6" fill="#fff" stroke="#555" stroke-width="0.9"/><circle cx="267.65" cy="416.20" r="2.6" fill="#fff" stroke="#555" stroke-width="0.9"/><circle cx="272.81" cy="455.80" r="2.6" fill="#fff" stroke="#555" stroke-width="0.9"/><circle cx="40.30" cy="470.27" r="2.75" fill="#f00000"/><circle cx="45.47" cy="469.86" r="2.75" fill="#f00000"/><circle cx="50.63" cy="469.44" r="2.75" fill="#f00000"/><circle cx="55.80" cy="469.01" r="2.75" fill="#f00000"/><circle cx="60.97" cy="468.56" r="2.75" fill="#f00000"/><circle cx="66.13" cy="468.08" r="2.75" fill="#f00000"/><circle cx="71.30" cy="467.56" r="2.75" fill="#f00000"/><circle cx="76.47" cy="467.00" r="2.75" fill="#f00000"/><circle cx="81.64" cy="466.38" r="2.75" fill="#f00000"/><circle cx="86.80" cy="465.70" r="2.75" fill="#f00000"/><circle cx="91.97" cy="464.95" r="2.75" fill="#f00000"/><circle cx="97.14" cy="464.12" r="2.75" fill="#f00000"/><circle cx="102.30" cy="463.20" r="2.75" fill="#f00000"/><circle cx="107.47" cy="462.19" r="2.75" fill="#f00000"/><circle cx="112.64" cy="461.07" r="2.75" fill="#f00000"/><circle cx="117.80" cy="459.85" r="2.75" fill="#f00000"/><circle cx="122.97" cy="458.50" r="2.75" fill="#f00000"/><circle cx="128.14" cy="457.02" r="2.75" fill="#f00000"/><circle cx="133.31" cy="455.40" r="2.75" fill="#f00000"/><circle cx="138.47" cy="453.64" r="2.75" fill="#f00000"/><circle cx="143.64" cy="451.73" r="2.75" fill="#f00000"/><circle cx="148.81" cy="449.66" r="2.75" fill="#f00000"/><circle cx="153.97" cy="447.41" r="2.75" fill="#f00000"/><circle cx="159.14" cy="444.99" r="2.75" fill="#f00000"/><circle cx="164.31" cy="442.37" r="2.75" fill="#f00000"/><circle cx="169.47" cy="439.57" r="2.75" fill="#f00000"/><circle cx="174.64" cy="436.56" r="2.75" fill="#f00000"/><circle cx="179.81" cy="433.34" r="2.75" fill="#f00000"/><circle cx="184.98" cy="429.90" r="2.75" fill="#f00000"/><circle cx="190.14" cy="426.23" r="2.75" fill="#f00000"/><circle cx="195.31" cy="422.32" r="2.75" fill="#f00000"/><circle cx="200.48" cy="418.18" r="2.75" fill="#f00000"/><circle cx="205.64" cy="413.80" r="2.75" fill="#f00000"/><circle cx="210.81" cy="409.22" r="2.75" fill="#f00000"/><circle cx="215.98" cy="404.45" r="2.75" fill="#f00000"/><circle cx="221.14" cy="399.50" r="2.75" fill="#f00000"/><circle cx="226.31" cy="394.40" r="2.75" fill="#f00000"/><circle cx="231.48" cy="389.17" r="2.75" fill="#f00000"/><circle cx="236.65" cy="383.82" r="2.75" fill="#f00000"/><circle cx="241.81" cy="378.37" r="2.75" fill="#f00000"/><circle cx="246.98" cy="372.84" r="2.75" fill="#f00000"/><circle cx="252.15" cy="367.25" r="2.75" fill="#f00000"/><circle cx="257.31" cy="361.62" r="2.75" fill="#f00000"/><circle cx="262.48" cy="356.02" r="2.75" fill="#f00000"/><circle cx="267.65" cy="350.80" r="2.75" fill="#f00000"/><circle cx="272.81" cy="346.37" r="2.75" fill="#f00000"/><circle cx="277.98" cy="343.80" r="2.75" fill="#f00000"/><circle cx="283.15" cy="342.20" r="2.75" fill="#f00000"/><circle cx="288.32" cy="342.20" r="2.75" fill="#f00000"/><circle cx="293.48" cy="344.20" r="2.75" fill="#f00000"/><circle cx="298.65" cy="349.70" r="2.75" fill="#f00000"/><circle cx="303.82" cy="359.20" r="2.75" fill="#f00000"/><circle cx="308.98" cy="374.00" r="2.75" fill="#f00000"/><circle cx="314.15" cy="395.00" r="2.75" fill="#f00000"/><path d="M40.70,464.60 L41.79,467.40 L44.79,467.57 L42.46,469.47 L43.23,472.38 L40.70,470.75 L38.17,472.38 L38.94,469.47 L36.61,467.57 L39.61,467.40Z" fill="#fff" stroke="#3d35c8" stroke-width="0.9" stroke-linejoin="miter"/><path d="M53.20,465.20 L54.29,468.00 L57.29,468.17 L54.96,470.07 L55.73,472.98 L53.20,471.35 L50.67,472.98 L51.44,470.07 L49.11,468.17 L52.11,468.00Z" fill="#fff" stroke="#3d35c8" stroke-width="0.9" stroke-linejoin="miter"/><path d="M65.80,465.20 L66.89,468.00 L69.89,468.17 L67.56,470.07 L68.33,472.98 L65.80,471.35 L63.27,472.98 L64.04,470.07 L61.71,468.17 L64.71,468.00Z" fill="#fff" stroke="#3d35c8" stroke-width="0.9" stroke-linejoin="miter"/><path d="M77.80,465.20 L78.89,468.00 L81.89,468.17 L79.56,470.07 L80.33,472.98 L77.80,471.35 L75.27,472.98 L76.04,470.07 L73.71,468.17 L76.71,468.00Z" fill="#fff" stroke="#3d35c8" stroke-width="0.9" stroke-linejoin="miter"/><path d="M90.80,457.70 L91.89,460.50 L94.89,460.67 L92.56,462.57 L93.33,465.48 L90.80,463.85 L88.27,465.48 L89.04,462.57 L86.71,460.67 L89.71,460.50Z" fill="#fff" stroke="#3d35c8" stroke-width="0.9" stroke-linejoin="miter"/><path d="M103.20,457.80 L104.29,460.60 L107.29,460.77 L104.96,462.67 L105.73,465.58 L103.20,463.95 L100.67,465.58 L101.44,462.67 L99.11,460.77 L102.11,460.60Z" fill="#fff" stroke="#3d35c8" stroke-width="0.9" stroke-linejoin="miter"/><path d="M115.20,458.20 L116.29,461.00 L119.29,461.17 L116.96,463.07 L117.73,465.98 L115.20,464.35 L112.67,465.98 L113.44,463.07 L111.11,461.17 L114.11,461.00Z" fill="#fff" stroke="#3d35c8" stroke-width="0.9" stroke-linejoin="miter"/><path d="M127.80,458.20 L128.89,461.00 L131.89,461.17 L129.56,463.07 L130.33,465.98 L127.80,464.35 L125.27,465.98 L126.04,463.07 L123.71,461.17 L126.71,461.00Z" fill="#fff" stroke="#3d35c8" stroke-width="0.9" stroke-linejoin="miter"/><path d="M140.30,451.20 L141.39,454.00 L144.39,454.17 L142.06,456.07 L142.83,458.98 L140.30,457.35 L137.77,458.98 L138.54,456.07 L136.21,454.17 L139.21,454.00Z" fill="#fff" stroke="#3d35c8" stroke-width="0.9" stroke-linejoin="miter"/><path d="M152.50,451.50 L153.59,454.30 L156.59,454.47 L154.26,456.37 L155.03,459.28 L152.50,457.65 L149.97,459.28 L150.74,456.37 L148.41,454.47 L151.41,454.30Z" fill="#fff" stroke="#3d35c8" stroke-width="0.9" stroke-linejoin="miter"/><path d="M165.00,444.50 L166.09,447.30 L169.09,447.47 L166.76,449.37 L167.53,452.28 L165.00,450.65 L162.47,452.28 L163.24,449.37 L160.91,447.47 L163.91,447.30Z" fill="#fff" stroke="#3d35c8" stroke-width="0.9" stroke-linejoin="miter"/><path d="M177.50,437.70 L178.59,440.50 L181.59,440.67 L179.26,442.57 L180.03,445.48 L177.50,443.85 L174.97,445.48 L175.74,442.57 L173.41,440.67 L176.41,440.50Z" fill="#fff" stroke="#3d35c8" stroke-width="0.9" stroke-linejoin="miter"/><path d="M190.00,431.00 L191.09,433.80 L194.09,433.97 L191.76,435.87 L192.53,438.78 L190.00,437.15 L187.47,438.78 L188.24,435.87 L185.91,433.97 L188.91,433.80Z" fill="#fff" stroke="#3d35c8" stroke-width="0.9" stroke-linejoin="miter"/><path d="M202.50,424.40 L203.59,427.20 L206.59,427.37 L204.26,429.27 L205.03,432.18 L202.50,430.55 L199.97,432.18 L200.74,429.27 L198.41,427.37 L201.41,427.20Z" fill="#fff" stroke="#3d35c8" stroke-width="0.9" stroke-linejoin="miter"/><path d="M215.00,417.40 L216.09,420.20 L219.09,420.37 L216.76,422.27 L217.53,425.18 L215.00,423.55 L212.47,425.18 L213.24,422.27 L210.91,420.37 L213.91,420.20Z" fill="#fff" stroke="#3d35c8" stroke-width="0.9" stroke-linejoin="miter"/><path d="M227.20,410.40 L228.29,413.20 L231.29,413.37 L228.96,415.27 L229.73,418.18 L227.20,416.55 L224.67,418.18 L225.44,415.27 L223.11,413.37 L226.11,413.20Z" fill="#fff" stroke="#3d35c8" stroke-width="0.9" stroke-linejoin="miter"/><path d="M239.60,397.00 L240.69,399.80 L243.69,399.97 L241.36,401.87 L242.13,404.78 L239.60,403.15 L237.07,404.78 L237.84,401.87 L235.51,399.97 L238.51,399.80Z" fill="#fff" stroke="#3d35c8" stroke-width="0.9" stroke-linejoin="miter"/><path d="M252.20,383.30 L253.29,386.10 L256.29,386.27 L253.96,388.17 L254.73,391.08 L252.20,389.45 L249.67,391.08 L250.44,388.17 L248.11,386.27 L251.11,386.10Z" fill="#fff" stroke="#3d35c8" stroke-width="0.9" stroke-linejoin="miter"/><path d="M264.60,370.10 L265.69,372.90 L268.69,373.07 L266.36,374.97 L267.13,377.88 L264.60,376.25 L262.07,377.88 L262.84,374.97 L260.51,373.07 L263.51,372.90Z" fill="#fff" stroke="#3d35c8" stroke-width="0.9" stroke-linejoin="miter"/><path d="M277.20,356.30 L278.29,359.10 L281.29,359.27 L278.96,361.17 L279.73,364.08 L277.20,362.45 L274.67,364.08 L275.44,361.17 L273.11,359.27 L276.11,359.10Z" fill="#fff" stroke="#3d35c8" stroke-width="0.9" stroke-linejoin="miter"/><path d="M289.20,343.00 L290.29,345.80 L293.29,345.97 L290.96,347.87 L291.73,350.78 L289.20,349.15 L286.67,350.78 L287.44,347.87 L285.11,345.97 L288.11,345.80Z" fill="#fff" stroke="#3d35c8" stroke-width="0.9" stroke-linejoin="miter"/><path d="M301.70,329.40 L302.79,332.20 L305.79,332.37 L303.46,334.27 L304.23,337.18 L301.70,335.55 L299.17,337.18 L299.94,334.27 L297.61,332.37 L300.61,332.20Z" fill="#fff" stroke="#3d35c8" stroke-width="0.9" stroke-linejoin="miter"/><path d="M314.20,309.20 L315.29,312.00 L318.29,312.17 L315.96,314.07 L316.73,316.98 L314.20,315.35 L311.67,316.98 L312.44,314.07 L310.11,312.17 L313.11,312.00Z" fill="#fff" stroke="#3d35c8" stroke-width="0.9" stroke-linejoin="miter"/></g><rect x="40.70" y="284.40" width="274.50" height="201.90" fill="none" stroke="#333" stroke-width="1.15"/><path d="M75.01,486.30V483.70M75.01,284.40V287.00M109.33,486.30V481.80M109.33,284.40V288.90M143.64,486.30V483.70M143.64,284.40V287.00M177.95,486.30V481.80M177.95,284.40V288.90M212.26,486.30V483.70M212.26,284.40V287.00M246.57,486.30V481.80M246.57,284.40V288.90M280.89,486.30V483.70M280.89,284.40V287.00M40.70,452.65H43.30M315.20,452.65H312.60M40.70,419.00H45.20M315.20,419.00H310.70M40.70,385.35H43.30M315.20,385.35H312.60M40.70,351.70H45.20M315.20,351.70H310.70M40.70,318.05H43.30M315.20,318.05H312.60" stroke="#333" stroke-width="1.1" fill="none"/><text x="40.70" y="499.90" font-family='"Liberation Serif", serif' font-size="11.5" text-anchor="middle" fill="#111">0</text><text x="109.33" y="499.40" font-family='"Liberation Sans", sans-serif' font-size="11.5" text-anchor="middle" fill="#111">2</text><text x="177.95" y="499.40" font-family='"Liberation Sans", sans-serif' font-size="11.5" text-anchor="middle" fill="#111">4</text><text x="246.57" y="499.40" font-family='"Liberation Sans", sans-serif' font-size="11.5" text-anchor="middle" fill="#111">6</text><text x="315.20" y="499.40" font-family='"Liberation Sans", sans-serif' font-size="11.5" text-anchor="middle" fill="#111">8</text><text x="35.60" y="489.60" font-family='"Liberation Sans", sans-serif' font-size="11.5" text-anchor="end" fill="#111">0.0</text><text x="35.60" y="422.30" font-family='"Liberation Sans", sans-serif' font-size="11.5" text-anchor="end" fill="#111">0.5</text><text x="35.60" y="355.00" font-family='"Liberation Sans", sans-serif' font-size="11.5" text-anchor="end" fill="#111">1.0</text><text x="35.60" y="287.70" font-family='"Liberation Sans", sans-serif' font-size="11.5" text-anchor="end" fill="#111">1.5</text><text x="109.10" y="522.00" font-family='"Liberation Sans", sans-serif' font-size="11.7" fill="#111">Dimensionless time (<tspan font-style="italic">kg</tspan>)<tspan font-size="6.5" dy="-6.6" dx="0.2">1/2</tspan><tspan dy="6.6" dx="1.5" font-style="italic">t</tspan></text><text transform="translate(10.30,516.80) rotate(-90)" x="0" y="0" font-family='"Liberation Serif", serif' font-size="14" fill="#111">Dimensionless amplitude of the spike, <tspan dx="2.4" font-style="italic" font-size="15.5">k<tspan dx="0.9">&#951;</tspan></tspan><tspan font-style="italic" font-size="8.6" dx="1.6" dy="4.6">sp</tspan></text><text x="59.70" y="304.10" font-family='"Liberation Sans", sans-serif' font-size="11.6" fill="#111"><tspan font-family='"Liberation Sans", sans-serif' font-style="italic">A</tspan>=0.2</text><circle cx="69.20" cy="323.80" r="2.6" fill="none" stroke="#555" stroke-width="0.9"/><circle cx="69.20" cy="338.10" r="2.7" fill="#f00000"/><path d="M69.20,348.50 L70.16,350.98 L72.81,351.13 L70.75,352.80 L71.43,355.37 L69.20,353.93 L66.97,355.37 L67.65,352.80 L65.59,351.13 L68.24,350.98Z" fill="none" stroke="#3d35c8" stroke-width="1.1"/><text x="86.30" y="327.60" font-family='"Liberation Sans", sans-serif' font-size="11.6" fill="#111">The classical</text><text x="86.30" y="341.90" font-family='"Liberation Sans", sans-serif' font-size="11.6" fill="#111">The potential</text><text x="86.30" y="355.90" font-family='"Liberation Sans", sans-serif' font-size="11.6" fill="#111">Numerical simulation</text><text x="313.60" y="480.30" font-family='"Liberation Sans", sans-serif' font-size="11.5" text-anchor="end" fill="#111">(c)</text></g>
<g><g clip-path="url(#clipd)"><circle cx="382.70" cy="467.33" r="2.6" fill="#fff" stroke="#555" stroke-width="0.9"/><circle cx="386.13" cy="466.26" r="2.6" fill="#fff" stroke="#555" stroke-width="0.9"/><circle cx="389.57" cy="465.23" r="2.6" fill="#fff" stroke="#555" stroke-width="0.9"/><circle cx="393.00" cy="464.22" r="2.6" fill="#fff" stroke="#555" stroke-width="0.9"/><circle cx="396.44" cy="463.21" r="2.6" fill="#fff" stroke="#555" stroke-width="0.9"/><circle cx="399.88" cy="462.21" r="2.6" fill="#fff" stroke="#555" stroke-width="0.9"/><circle cx="403.31" cy="461.20" r="2.6" fill="#fff" stroke="#555" stroke-width="0.9"/><circle cx="406.75" cy="460.16" r="2.6" fill="#fff" stroke="#555" stroke-width="0.9"/><circle cx="410.18" cy="459.09" r="2.6" fill="#fff" stroke="#555" stroke-width="0.9"/><circle cx="413.62" cy="457.97" r="2.6" fill="#fff" stroke="#555" stroke-width="0.9"/><circle cx="417.05" cy="456.79" r="2.6" fill="#fff" stroke="#555" stroke-width="0.9"/><circle cx="420.49" cy="455.54" r="2.6" fill="#fff" stroke="#555" stroke-width="0.9"/><circle cx="423.92" cy="454.21" r="2.6" fill="#fff" stroke="#555" stroke-width="0.9"/><circle cx="427.36" cy="452.79" r="2.6" fill="#fff" stroke="#555" stroke-width="0.9"/><circle cx="430.79" cy="451.27" r="2.6" fill="#fff" stroke="#555" stroke-width="0.9"/><circle cx="434.23" cy="449.63" r="2.6" fill="#fff" stroke="#555" stroke-width="0.9"/><circle cx="437.66" cy="447.87" r="2.6" fill="#fff" stroke="#555" stroke-width="0.9"/><circle cx="441.10" cy="445.96" r="2.6" fill="#fff" stroke="#555" stroke-width="0.9"/><circle cx="444.53" cy="443.91" r="2.6" fill="#fff" stroke="#555" stroke-width="0.9"/><circle cx="447.97" cy="441.71" r="2.6" fill="#fff" stroke="#555" stroke-width="0.9"/><circle cx="451.40" cy="439.36" r="2.6" fill="#fff" stroke="#555" stroke-width="0.9"/><circle cx="454.83" cy="436.87" r="2.6" fill="#fff" stroke="#555" stroke-width="0.9"/><circle cx="458.27" cy="434.22" r="2.6" fill="#fff" stroke="#555" stroke-width="0.9"/><circle cx="461.70" cy="431.41" r="2.6" fill="#fff" stroke="#555" stroke-width="0.9"/><circle cx="465.14" cy="428.46" r="2.6" fill="#fff" stroke="#555" stroke-width="0.9"/><circle cx="468.57" cy="425.36" r="2.6" fill="#fff" stroke="#555" stroke-width="0.9"/><circle cx="472.01" cy="422.10" r="2.6" fill="#fff" stroke="#555" stroke-width="0.9"/><circle cx="475.44" cy="418.69" r="2.6" fill="#fff" stroke="#555" stroke-width="0.9"/><circle cx="478.88" cy="415.10" r="2.6" fill="#fff" stroke="#555" stroke-width="0.9"/><circle cx="482.31" cy="411.33" r="2.6" fill="#fff" stroke="#555" stroke-width="0.9"/><circle cx="485.75" cy="407.37" r="2.6" fill="#fff" stroke="#555" stroke-width="0.9"/><circle cx="489.19" cy="403.20" r="2.6" fill="#fff" stroke="#555" stroke-width="0.9"/><circle cx="492.62" cy="398.80" r="2.6" fill="#fff" stroke="#555" stroke-width="0.9"/><circle cx="496.06" cy="394.17" r="2.6" fill="#fff" stroke="#555" stroke-width="0.9"/><circle cx="499.49" cy="389.26" r="2.6" fill="#fff" stroke="#555" stroke-width="0.9"/><circle cx="502.93" cy="384.04" r="2.6" fill="#fff" stroke="#555" stroke-width="0.9"/><circle cx="506.36" cy="378.50" r="2.6" fill="#fff" stroke="#555" stroke-width="0.9"/><circle cx="509.80" cy="372.60" r="2.6" fill="#fff" stroke="#555" stroke-width="0.9"/><circle cx="513.23" cy="366.30" r="2.6" fill="#fff" stroke="#555" stroke-width="0.9"/><circle cx="516.66" cy="359.60" r="2.6" fill="#fff" stroke="#555" stroke-width="0.9"/><circle cx="520.10" cy="352.45" r="2.6" fill="#fff" stroke="#555" stroke-width="0.9"/><circle cx="523.53" cy="344.82" r="2.6" fill="#fff" stroke="#555" stroke-width="0.9"/><circle cx="526.97" cy="336.69" r="2.6" fill="#fff" stroke="#555" stroke-width="0.9"/><circle cx="530.40" cy="328.04" r="2.6" fill="#fff" stroke="#555" stroke-width="0.9"/><circle cx="533.84" cy="318.82" r="2.6" fill="#fff" stroke="#555" stroke-width="0.9"/><circle cx="537.27" cy="309.02" r="2.6" fill="#fff" stroke="#555" stroke-width="0.9"/><circle cx="540.71" cy="298.60" r="2.6" fill="#fff" stroke="#555" stroke-width="0.9"/><circle cx="544.14" cy="287.53" r="2.6" fill="#fff" stroke="#555" stroke-width="0.9"/><circle cx="547.58" cy="275.79" r="2.6" fill="#fff" stroke="#555" stroke-width="0.9"/><circle cx="382.70" cy="468.07" r="2.75" fill="#f00000"/><circle cx="393.00" cy="467.50" r="2.75" fill="#f00000"/><circle cx="403.31" cy="467.20" r="2.75" fill="#f00000"/><circle cx="413.62" cy="466.30" r="2.75" fill="#f00000"/><circle cx="423.92" cy="465.50" r="2.75" fill="#f00000"/><circle cx="434.22" cy="463.70" r="2.75" fill="#f00000"/><circle cx="444.53" cy="461.80" r="2.75" fill="#f00000"/><circle cx="454.83" cy="459.40" r="2.75" fill="#f00000"/><circle cx="465.14" cy="457.00" r="2.75" fill="#f00000"/><circle cx="475.44" cy="453.30" r="2.75" fill="#f00000"/><circle cx="485.75" cy="449.50" r="2.75" fill="#f00000"/><circle cx="496.05" cy="444.80" r="2.75" fill="#f00000"/><circle cx="506.36" cy="439.50" r="2.75" fill="#f00000"/><circle cx="516.66" cy="433.00" r="2.75" fill="#f00000"/><circle cx="526.97" cy="425.40" r="2.75" fill="#f00000"/><circle cx="537.27" cy="416.20" r="2.75" fill="#f00000"/><circle cx="547.58" cy="405.80" r="2.75" fill="#f00000"/><circle cx="557.88" cy="393.80" r="2.75" fill="#f00000"/><circle cx="568.19" cy="379.20" r="2.75" fill="#f00000"/><circle cx="578.50" cy="361.80" r="2.75" fill="#f00000"/><circle cx="588.80" cy="341.30" r="2.75" fill="#f00000"/><circle cx="599.11" cy="317.00" r="2.75" fill="#f00000"/><circle cx="609.41" cy="288.00" r="2.75" fill="#f00000"/><path d="M382.70,463.60 L383.79,466.40 L386.79,466.57 L384.46,468.47 L385.23,471.38 L382.70,469.75 L380.17,471.38 L380.94,468.47 L378.61,466.57 L381.61,466.40Z" fill="#fff" stroke="#3d35c8" stroke-width="0.9" stroke-linejoin="miter"/><path d="M398.00,468.70 L399.09,471.50 L402.09,471.67 L399.76,473.57 L400.53,476.48 L398.00,474.85 L395.47,476.48 L396.24,473.57 L393.91,471.67 L396.91,471.50Z" fill="#fff" stroke="#3d35c8" stroke-width="0.9" stroke-linejoin="miter"/><path d="M413.30,468.20 L414.39,471.00 L417.39,471.17 L415.06,473.07 L415.83,475.98 L413.30,474.35 L410.77,475.98 L411.54,473.07 L409.21,471.17 L412.21,471.00Z" fill="#fff" stroke="#3d35c8" stroke-width="0.9" stroke-linejoin="miter"/><path d="M428.30,461.20 L429.39,464.00 L432.39,464.17 L430.06,466.07 L430.83,468.98 L428.30,467.35 L425.77,468.98 L426.54,466.07 L424.21,464.17 L427.21,464.00Z" fill="#fff" stroke="#3d35c8" stroke-width="0.9" stroke-linejoin="miter"/><path d="M443.70,461.70 L444.79,464.50 L447.79,464.67 L445.46,466.57 L446.23,469.48 L443.70,467.85 L441.17,469.48 L441.94,466.57 L439.61,464.67 L442.61,464.50Z" fill="#fff" stroke="#3d35c8" stroke-width="0.9" stroke-linejoin="miter"/><path d="M458.80,461.70 L459.89,464.50 L462.89,464.67 L460.56,466.57 L461.33,469.48 L458.80,467.85 L456.27,469.48 L457.04,466.57 L454.71,464.67 L457.71,464.50Z" fill="#fff" stroke="#3d35c8" stroke-width="0.9" stroke-linejoin="miter"/><path d="M474.20,454.70 L475.29,457.50 L478.29,457.67 L475.96,459.57 L476.73,462.48 L474.20,460.85 L471.67,462.48 L472.44,459.57 L470.11,457.67 L473.11,457.50Z" fill="#fff" stroke="#3d35c8" stroke-width="0.9" stroke-linejoin="miter"/><path d="M489.40,454.70 L490.49,457.50 L493.49,457.67 L491.16,459.57 L491.93,462.48 L489.40,460.85 L486.87,462.48 L487.64,459.57 L485.31,457.67 L488.31,457.50Z" fill="#fff" stroke="#3d35c8" stroke-width="0.9" stroke-linejoin="miter"/><path d="M504.70,447.90 L505.79,450.70 L508.79,450.87 L506.46,452.77 L507.23,455.68 L504.70,454.05 L502.17,455.68 L502.94,452.77 L500.61,450.87 L503.61,450.70Z" fill="#fff" stroke="#3d35c8" stroke-width="0.9" stroke-linejoin="miter"/><path d="M519.60,440.50 L520.69,443.30 L523.69,443.47 L521.36,445.37 L522.13,448.28 L519.60,446.65 L517.07,448.28 L517.84,445.37 L515.51,443.47 L518.51,443.30Z" fill="#fff" stroke="#3d35c8" stroke-width="0.9" stroke-linejoin="miter"/><path d="M535.00,427.50 L536.09,430.30 L539.09,430.47 L536.76,432.37 L537.53,435.28 L535.00,433.65 L532.47,435.28 L533.24,432.37 L530.91,430.47 L533.91,430.30Z" fill="#fff" stroke="#3d35c8" stroke-width="0.9" stroke-linejoin="miter"/><path d="M550.00,420.50 L551.09,423.30 L554.09,423.47 L551.76,425.37 L552.53,428.28 L550.00,426.65 L547.47,428.28 L548.24,425.37 L545.91,423.47 L548.91,423.30Z" fill="#fff" stroke="#3d35c8" stroke-width="0.9" stroke-linejoin="miter"/><path d="M565.30,407.00 L566.39,409.80 L569.39,409.97 L567.06,411.87 L567.83,414.78 L565.30,413.15 L562.77,414.78 L563.54,411.87 L561.21,409.97 L564.21,409.80Z" fill="#fff" stroke="#3d35c8" stroke-width="0.9" stroke-linejoin="miter"/><path d="M580.80,387.20 L581.89,390.00 L584.89,390.17 L582.56,392.07 L583.33,394.98 L580.80,393.35 L578.27,394.98 L579.04,392.07 L576.71,390.17 L579.71,390.00Z" fill="#fff" stroke="#3d35c8" stroke-width="0.9" stroke-linejoin="miter"/><path d="M596.30,363.20 L597.39,366.00 L600.39,366.17 L598.06,368.07 L598.83,370.98 L596.30,369.35 L593.77,370.98 L594.54,368.07 L592.21,366.17 L595.21,366.00Z" fill="#fff" stroke="#3d35c8" stroke-width="0.9" stroke-linejoin="miter"/><path d="M611.30,339.40 L612.39,342.20 L615.39,342.37 L613.06,344.27 L613.83,347.18 L611.30,345.55 L608.77,347.18 L609.54,344.27 L607.21,342.37 L610.21,342.20Z" fill="#fff" stroke="#3d35c8" stroke-width="0.9" stroke-linejoin="miter"/><path d="M626.30,312.40 L627.39,315.20 L630.39,315.37 L628.06,317.27 L628.83,320.18 L626.30,318.55 L623.77,320.18 L624.54,317.27 L622.21,315.37 L625.21,315.20Z" fill="#fff" stroke="#3d35c8" stroke-width="0.9" stroke-linejoin="miter"/><path d="M641.20,285.40 L642.29,288.20 L645.29,288.37 L642.96,290.27 L643.73,293.18 L641.20,291.55 L638.67,293.18 L639.44,290.27 L637.11,288.37 L640.11,288.20Z" fill="#fff" stroke="#3d35c8" stroke-width="0.9" stroke-linejoin="miter"/></g><rect x="382.70" y="282.50" width="274.80" height="201.10" fill="none" stroke="#333" stroke-width="1.15"/><path d="M417.05,483.60V481.00M417.05,282.50V285.10M451.40,483.60V479.10M451.40,282.50V287.00M485.75,483.60V481.00M485.75,282.50V285.10M520.10,483.60V479.10M520.10,282.50V287.00M554.45,483.60V481.00M554.45,282.50V285.10M588.80,483.60V479.10M588.80,282.50V287.00M623.15,483.60V481.00M623.15,282.50V285.10M382.70,450.08H385.30M657.50,450.08H654.90M382.70,416.57H387.20M657.50,416.57H653.00M382.70,383.05H385.30M657.50,383.05H654.90M382.70,349.53H387.20M657.50,349.53H653.00M382.70,316.02H385.30M657.50,316.02H654.90" stroke="#333" stroke-width="1.1" fill="none"/><text x="382.70" y="497.20" font-family='"Liberation Serif", serif' font-size="11.5" text-anchor="middle" fill="#111">0</text><text x="451.40" y="496.70" font-family='"Liberation Sans", sans-serif' font-size="11.5" text-anchor="middle" fill="#111">1</text><text x="520.10" y="496.70" font-family='"Liberation Sans", sans-serif' font-size="11.5" text-anchor="middle" fill="#111">2</text><text x="588.80" y="496.70" font-family='"Liberation Sans", sans-serif' font-size="11.5" text-anchor="middle" fill="#111">3</text><text x="657.50" y="496.70" font-family='"Liberation Sans", sans-serif' font-size="11.5" text-anchor="middle" fill="#111">4</text><text x="377.60" y="486.90" font-family='"Liberation Sans", sans-serif' font-size="11.5" text-anchor="end" fill="#111">0.0</text><text x="377.60" y="419.87" font-family='"Liberation Sans", sans-serif' font-size="11.5" text-anchor="end" fill="#111">0.5</text><text x="377.60" y="352.83" font-family='"Liberation Sans", sans-serif' font-size="11.5" text-anchor="end" fill="#111">1.0</text><text x="377.60" y="285.80" font-family='"Liberation Sans", sans-serif' font-size="11.5" text-anchor="end" fill="#111">1.5</text><text x="451.00" y="520.20" font-family='"Liberation Sans", sans-serif' font-size="11.7" fill="#111">Dimensionless time (<tspan font-style="italic">kg</tspan>)<tspan font-size="6.5" dy="-6.6" dx="0.2">1/2</tspan><tspan dy="6.6" dx="1.5" font-style="italic">t</tspan></text><text transform="translate(352.00,515.10) rotate(-90)" x="0" y="0" font-family='"Liberation Serif", serif' font-size="14" fill="#111">Dimensionless amplitude of the spike, <tspan dx="2.4" font-style="italic" font-size="15.5">k<tspan dx="0.9">&#951;</tspan></tspan><tspan font-style="italic" font-size="8.6" dx="1.6" dy="4.6">sp</tspan></text><text x="398.50" y="297.20" font-family='"Liberation Sans", sans-serif' font-size="11.6" fill="#111"><tspan font-family='"Liberation Sans", sans-serif' font-style="italic">A</tspan>=0.8</text><circle cx="406.80" cy="316.40" r="2.6" fill="none" stroke="#555" stroke-width="0.9"/><circle cx="406.80" cy="330.50" r="2.7" fill="#f00000"/><path d="M406.80,341.40 L407.76,343.88 L410.41,344.03 L408.35,345.70 L409.03,348.27 L406.80,346.83 L404.57,348.27 L405.25,345.70 L403.19,344.03 L405.84,343.88Z" fill="none" stroke="#3d35c8" stroke-width="1.1"/><text x="423.60" y="320.20" font-family='"Liberation Sans", sans-serif' font-size="11.6" fill="#111">The classical</text><text x="423.60" y="334.30" font-family='"Liberation Sans", sans-serif' font-size="11.6" fill="#111">The potential</text><text x="423.60" y="348.80" font-family='"Liberation Sans", sans-serif' font-size="11.6" fill="#111">Numerical simulation</text><text x="655.90" y="478.10" font-family='"Liberation Sans", sans-serif' font-size="11.5" text-anchor="end" fill="#111">(d)</text></g>
</svg></body></html>
